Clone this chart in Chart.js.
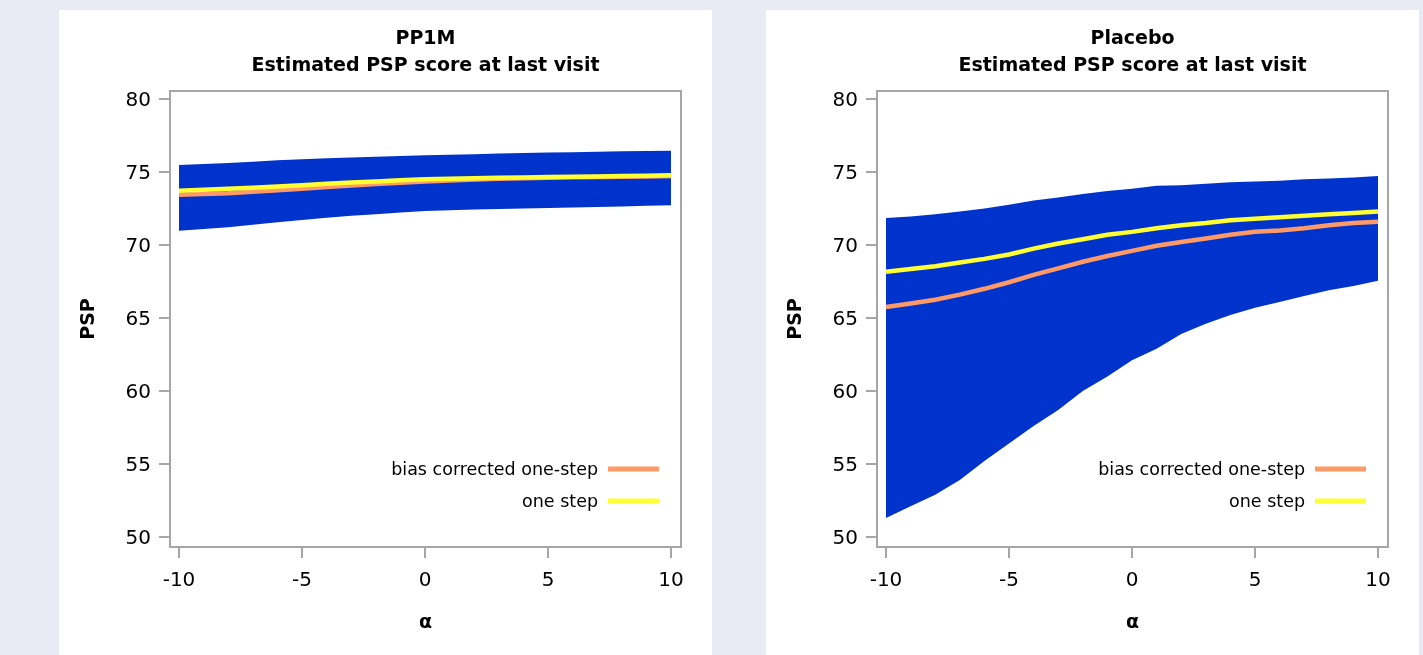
<!DOCTYPE html>
<html><head><meta charset="utf-8">
<script src="https://cdn.jsdelivr.net/npm/chart.js@4.4.1/dist/chart.umd.min.js"></script>
<style>
html,body{margin:0;padding:0;background:#eaeaf5;width:1423px;height:655px;overflow:hidden}
.panel{position:absolute;top:10px;width:653px;height:645px;background:#fff}
#p1{left:59px}#p2{left:766px}
canvas{display:block}
</style></head><body>
<div class="panel" id="p1"><canvas id="c1" width="653" height="645"></canvas></div>
<div class="panel" id="p2"><canvas id="c2" width="653" height="645"></canvas></div>
<script>
// ---- data ----
const alpha = [-10,-9,-8,-7,-6,-5,-4,-3,-2,-1,0,1,2,3,4,5,6,7,8,9,10];
const xTicks = [-10,-5,0,5,10];
const yTicks = [50,55,60,65,70,75,80];
const seriesNames = ['bias corrected one-step','one step'];
const panelTitles = [['PP1M','Estimated PSP score at last visit'],['Placebo','Estimated PSP score at last visit']];

// PP1M
const pp1mUpper = [75.48,75.55,75.62,75.70,75.80,75.88,75.95,76.00,76.05,76.10,76.15,76.18,76.22,76.26,76.30,76.33,76.36,76.39,76.42,76.44,76.46];
const pp1mLower = [70.98,71.10,71.22,71.38,71.55,71.72,71.87,72.00,72.10,72.22,72.33,72.38,72.43,72.47,72.50,72.53,72.57,72.60,72.64,72.68,72.72];
const pp1mOneStep = [73.72,73.78,73.85,73.92,74.00,74.10,74.20,74.28,74.35,74.43,74.50,74.54,74.58,74.60,74.63,74.66,74.68,74.70,74.72,74.75,74.78];
const pp1mBiasCorr = [73.45,73.50,73.55,73.65,73.75,73.86,73.97,74.08,74.18,74.27,74.35,74.42,74.48,74.53,74.57,74.60,74.64,74.66,74.68,74.70,74.72];

// Placebo
const plaUpper = [71.85,71.95,72.10,72.30,72.50,72.75,73.05,73.25,73.50,73.70,73.85,74.05,74.10,74.20,74.30,74.35,74.40,74.50,74.55,74.62,74.72];
const plaLower = [51.30,52.10,52.90,53.90,55.20,56.40,57.60,58.70,60.00,61.00,62.10,62.90,63.90,64.60,65.20,65.70,66.10,66.50,66.90,67.20,67.55];
const plaOneStep = [68.17,68.35,68.55,68.80,69.05,69.35,69.75,70.10,70.40,70.70,70.90,71.15,71.35,71.50,71.70,71.80,71.90,72.00,72.10,72.20,72.30];
const plaBiasCorr = [65.75,66.00,66.25,66.60,67.00,67.45,67.95,68.40,68.85,69.25,69.60,69.95,70.20,70.45,70.70,70.90,71.00,71.15,71.35,71.50,71.60];

// ---- styling ----
const FONT = 'DejaVu Sans';
const GREY = '#a6a6a6';
const BLUE = '#0033cc';
const YELLOW = '#ffff33';
const ORANGE = '#ff9966';

const pts = arr => alpha.map((a,i)=>({x:a,y:arr[i]}));

const framePlugin = {
  id:'frame',
  afterDatasetsDraw(chart){
    const {ctx, chartArea:a} = chart;
    ctx.save();
    ctx.strokeStyle = GREY; ctx.lineWidth = 2;
    ctx.strokeRect(a.left, a.top, a.right-a.left, a.bottom-a.top);
    ctx.restore();
  },
  afterDraw(chart){
    const {ctx, chartArea:a} = chart;
    const items = [1,0].map(i=>chart.data.datasets[i]); // bias corrected, one step
    ctx.save();
    ctx.font = '17.5px "'+FONT+'"';
    ctx.textAlign = 'right'; ctx.textBaseline = 'middle';
    items.forEach((ds,k)=>{
      const y = a.bottom - 78 + k*32;
      ctx.fillStyle = '#000';
      ctx.fillText(ds.label, a.right - 83, y + 1);
      ctx.strokeStyle = ds.borderColor; ctx.lineWidth = 5;
      ctx.beginPath(); ctx.moveTo(a.right-73, y); ctx.lineTo(a.right-22, y); ctx.stroke();
    });
    ctx.restore();
  }
};

function makeChart(id, title, upper, lower, oneStep, bias){
  return new Chart(document.getElementById(id), {
    type:'line',
    data:{datasets:[
      {label:seriesNames[1], data:pts(oneStep), borderColor:YELLOW, borderWidth:4.5, pointRadius:0, fill:false, tension:0},
      {label:seriesNames[0], data:pts(bias), borderColor:ORANGE, borderWidth:4.5, pointRadius:0, fill:false, tension:0},
      {label:'upper', data:pts(upper), borderWidth:0, borderColor:'rgba(0,0,0,0)', backgroundColor:BLUE, pointRadius:0, fill:'+1', tension:0},
      {label:'lower', data:pts(lower), borderWidth:0, borderColor:'rgba(0,0,0,0)', pointRadius:0, fill:false, tension:0}
    ]},
    options:{
      responsive:false, animation:false, events:[],
      layout:{padding:{left:0,right:31,top:0,bottom:0}},
      plugins:{
        legend:{display:false}, tooltip:{enabled:false},
        title:{display:true, text:title, fullSize:false, color:'#000',
          font:{family:FONT, size:19, weight:'bold', lineHeight:27/19},
          padding:{top:15.5,bottom:11.5}}
      },
      scales:{
        x:{type:'linear', min:-10.366, max:10.407,
          afterBuildTicks:s=>{s.ticks = xTicks.map(v=>({value:v}));},
          afterFit:s=>{s.height=108;},
          grid:{drawOnChartArea:false, tickLength:11, color:GREY, lineWidth:2},
          border:{display:false},
          ticks:{color:'#000', font:{family:FONT,size:20}, padding:11, maxRotation:0, autoSkip:false, callback:v=>String(v)},
          title:{display:true, text:'α', color:'#000', font:{family:FONT,size:19,weight:'bold'}, padding:{top:0,bottom:20.6}}
        },
        y:{type:'linear', min:49.315, max:80.548,
          afterBuildTicks:s=>{s.ticks = yTicks.map(v=>({value:v}));},
          afterFit:s=>{s.width=111;},
          grid:{drawOnChartArea:false, tickLength:11, color:GREY, lineWidth:2},
          border:{display:false},
          ticks:{color:'#000', font:{family:FONT,size:20}, padding:8, labelOffset:2, autoSkip:false, callback:v=>String(v)},
          title:{display:true, text:'PSP', color:'#000', font:{family:FONT,size:19,weight:'bold'}, padding:{top:18.6,bottom:0}}
        }
      }
    },
    plugins:[framePlugin]
  });
}
makeChart('c1', panelTitles[0], pp1mUpper, pp1mLower, pp1mOneStep, pp1mBiasCorr);
makeChart('c2', panelTitles[1], plaUpper, plaLower, plaOneStep, plaBiasCorr);
</script>
</body></html>
